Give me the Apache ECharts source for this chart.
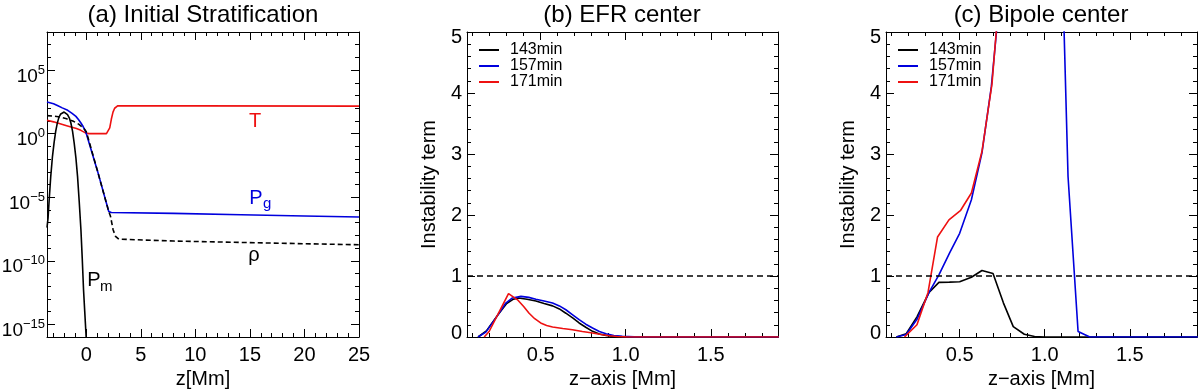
<!DOCTYPE html>
<html>
<head>
<meta charset="utf-8">
<script src="https://cdn.jsdelivr.net/npm/echarts@6/dist/echarts.min.js"></script>
<style>
  html, body { margin: 0; padding: 0; background: #fff; }
  #chart { width: 1200px; height: 389px; }
</style>
</head>
<body>
<div id="chart"></div>
<script>
// ---- panel (a): initial stratification, values are log10 of the quantity ----
const zRange = [-3.6, 25];
const logRange = [-16, 8];
const zMajor = [0, 5, 10, 15, 20, 25];
const zMinor = [-3, -2, -1, 1, 2, 3, 4, 6, 7, 8, 9, 11, 12, 13, 14, 16, 17, 18, 19, 21, 22, 23, 24];
const logMajor = [-15, -10, -5, 0, 5];
const logMinor = [-14, -13, -12, -11, -9, -8, -7, -6, -4, -3, -2, -1, 1, 2, 3, 4, 6, 7];

const tempLog = [[-3.6, 1.05], [-3.0, 0.93], [-2.4, 0.78], [-1.8, 0.63], [-1.4, 0.53], [-0.9, 0.4],
  [-0.5, 0.26], [-0.2, 0.12], [0.0, 0.02], [0.3, 0], [1.85, 0], [2.0, 0.1], [2.15, 0.45], [2.3, 1.15],
  [2.45, 1.7], [2.6, 2.0], [2.75, 2.14], [2.9, 2.2], [10, 2.19], [25, 2.17]];
const pgLog = [[-3.6, 2.5], [-3.0, 2.35], [-2.6, 2.2], [-2.2, 2.03], [-1.7, 1.84], [-1.3, 1.6],
  [-0.95, 1.36], [-0.7, 1.1], [-0.49, 0.84], [-0.3, 0.58], [-0.18, 0.37], [-0.05, 0.15], [0.06, 0],
  [1.04, -2.97], [2.06, -6.12], [2.3, -6.2], [8, -6.27], [14.2, -6.38], [20, -6.48], [25, -6.56]];
const rhoLog = [[-3.6, 1.42], [-3.0, 1.38], [-2.4, 1.31], [-1.8, 1.17], [-1.17, 0.97], [-0.7, 0.75],
  [-0.25, 0.45], [0.0, 0.15], [0.15, -0.28], [1.04, -2.97], [2.06, -6.12], [2.22, -6.5], [2.46, -7.56],
  [2.68, -8.08], [2.98, -8.3], [8, -8.45], [14.2, -8.56], [20, -8.66], [25, -8.74]];
const pmLog = [[-3.6, -7.4], [-3.5, -6.6], [-3.4, -5.2], [-3.26, -3.4], [-3.1, -1.8], [-2.95, -0.7],
  [-2.8, 0.2], [-2.65, 0.85], [-2.5, 1.3], [-2.34, 1.55], [-2.18, 1.67], [-2.03, 1.7], [-1.88, 1.65],
  [-1.72, 1.5], [-1.56, 1.25], [-1.41, 0.84], [-1.26, 0.2], [-1.11, -0.73], [-0.95, -1.9], [-0.8, -3.36],
  [-0.65, -5.3], [-0.49, -7.56], [-0.37, -9.8], [-0.25, -12.3], [-0.14, -14.0], [-0.03, -15.7], [0.0, -16.2]];

// ---- panels (b) and (c): instability term vs height ----
const hRange = [0.067, 1.895];
const hMajor = [0.5, 1.0, 1.5];
const hMinor = [0.1, 0.2, 0.3, 0.4, 0.6, 0.7, 0.8, 0.9, 1.1, 1.2, 1.3, 1.4, 1.6, 1.7, 1.8];
const termRange = [0, 5];
const termMajor = [0, 1, 2, 3, 4, 5];
const termMinor = [0.2, 0.4, 0.6, 0.8, 1.2, 1.4, 1.6, 1.8, 2.2, 2.4, 2.6, 2.8, 3.2, 3.4, 3.6, 3.8, 4.2, 4.4, 4.6, 4.8];
const threshold = 1;
const timeNames = ['143min', '157min', '171min'];

const efr143 = [[0.132, 0], [0.181, 0.1], [0.24, 0.33], [0.3, 0.55], [0.34, 0.62], [0.37, 0.64], [0.42, 0.62],
  [0.472, 0.59], [0.52, 0.55], [0.57, 0.51], [0.61, 0.46], [0.648, 0.39], [0.69, 0.31], [0.726, 0.23],
  [0.765, 0.16], [0.805, 0.093], [0.845, 0.05], [0.884, 0.027], [0.93, 0.01], [0.98, 0.003], [1.05, 0], [1.9, 0]];
const efr157 = [[0.132, 0], [0.178, 0.08], [0.236, 0.31], [0.295, 0.557], [0.334, 0.64], [0.384, 0.666],
  [0.43, 0.65], [0.472, 0.62], [0.52, 0.59], [0.57, 0.557], [0.61, 0.51], [0.648, 0.447], [0.69, 0.36],
  [0.726, 0.284], [0.765, 0.21], [0.805, 0.147], [0.845, 0.09], [0.884, 0.054], [0.93, 0.025], [0.98, 0.01],
  [1.05, 0.002], [1.1, 0], [1.9, 0]];
const efr171 = [[0.168, 0], [0.197, 0.09], [0.25, 0.38], [0.311, 0.71], [0.364, 0.61], [0.4, 0.5], [0.432, 0.39],
  [0.465, 0.3], [0.5, 0.23], [0.535, 0.19], [0.57, 0.164], [0.63, 0.14], [0.687, 0.12], [0.745, 0.09],
  [0.805, 0.065], [0.855, 0.04], [0.903, 0.02], [0.95, 0.008], [1.0, 0.002], [1.1, 0], [1.9, 0]];

const bip143 = [[0.128, 0], [0.186, 0.054], [0.249, 0.33], [0.32, 0.73], [0.378, 0.895], [0.44, 0.9], [0.5, 0.906],
  [0.569, 0.98], [0.631, 1.09], [0.696, 1.04], [0.757, 0.56], [0.815, 0.17], [0.88, 0.045], [0.94, 0.008],
  [1.0, 0], [1.9, 0]];
const bip157 = [[0.128, 0], [0.186, 0.04], [0.249, 0.29], [0.32, 0.73], [0.378, 1.02], [0.441, 1.38], [0.5, 1.7],
  [0.569, 2.25], [0.631, 3.02], [0.686, 4.1], [0.75, 6.0], [0.82, 9], [0.88, 13], [0.95, 18], [1.01, 15],
  [1.07, 9.5], [1.137, 2.63], [1.196, 0.09], [1.265, 0], [1.9, 0]];
const bip171 = [[0.176, 0], [0.249, 0.2], [0.314, 0.73], [0.37, 1.64], [0.437, 1.92], [0.504, 2.07], [0.569, 2.36],
  [0.631, 3.04], [0.69, 4.15], [0.75, 6.2], [0.82, 10], [0.9, 15], [1.0, 20], [1.2, 25], [1.5, 30], [1.9, 30]];

const FONT = "'Liberation Sans', Arial, Helvetica, sans-serif";
const RED = '#ee1111';
const BLUE = '#0000dd';
const BLACK = '#000000';
const AX = { color: '#000', width: 1 };

const grids = [
  { left: 47, top: 32, width: 312, height: 305 },
  { left: 467, top: 32, width: 311, height: 305 },
  { left: 886, top: 32, width: 311, height: 305 }
];

const xAxis = [];
const yAxis = [];

const labelRich = {
  b: { fontFamily: FONT, fontSize: 19, lineHeight: 20, verticalAlign: 'bottom', color: '#000' },
  e: { fontFamily: FONT, fontSize: 13, lineHeight: 32, verticalAlign: 'middle', color: '#000' },
  lo: { fontFamily: FONT, fontSize: 20, color: '#000', padding: [0, 0, 8, 0] },
  hi: { fontFamily: FONT, fontSize: 20, color: '#000', padding: [11, 0, 0, 0] }
};

// box with inward ticks on all four sides; minor ticks live on an overlay grid (index + 3)
function addBox(g, xr, yr, xMaj, xMin, yMaj, yMin, xFmt, yFmt, xName, yName, yLabelMargin) {
  const base = { type: 'value', splitLine: { show: false } };
  xAxis.push(Object.assign({}, base, {
    gridIndex: g, position: 'bottom', min: xr[0], max: xr[1],
    axisLine: { show: true, onZero: false, lineStyle: AX },
    axisTick: { show: true, inside: true, length: 8, customValues: xMaj, lineStyle: AX },
    axisLabel: { show: true, customValues: xMaj, formatter: xFmt, color: '#000', fontFamily: FONT, fontSize: 20, margin: 8 },
    name: xName, nameLocation: 'middle', nameGap: 26,
    nameTextStyle: { color: '#000', fontFamily: FONT, fontSize: 20 }
  }));
  xAxis.push(Object.assign({}, base, {
    gridIndex: g, position: 'top', min: xr[0], max: xr[1],
    axisLine: { show: true, onZero: false, lineStyle: AX },
    axisTick: { show: true, inside: true, length: 8, customValues: xMaj, lineStyle: AX },
    axisLabel: { show: false }
  }));
  yAxis.push(Object.assign({}, base, {
    gridIndex: g, position: 'left', min: yr[0], max: yr[1],
    axisLine: { show: true, onZero: false, lineStyle: AX },
    axisTick: { show: true, inside: true, length: 8, customValues: yMaj, lineStyle: AX },
    axisLabel: {
      show: true, customValues: yMaj, formatter: yFmt, color: '#000', fontFamily: FONT, fontSize: 20,
      margin: yLabelMargin, rich: labelRich
    },
    name: yName, nameLocation: 'middle', nameGap: 28,
    nameTextStyle: { color: '#000', fontFamily: FONT, fontSize: 20 }
  }));
  yAxis.push(Object.assign({}, base, {
    gridIndex: g, position: 'right', min: yr[0], max: yr[1],
    axisLine: { show: true, onZero: false, lineStyle: AX },
    axisTick: { show: true, inside: true, length: 8, customValues: yMaj, lineStyle: AX },
    axisLabel: { show: false }
  }));
  // minor ticks
  ['bottom', 'top'].forEach(p => xAxis.push(Object.assign({}, base, {
    gridIndex: g + 3, position: p, min: xr[0], max: xr[1],
    axisLine: { show: false, onZero: false },
    axisTick: { show: true, inside: true, length: 4, customValues: xMin, lineStyle: AX },
    axisLabel: { show: false }
  })));
  ['left', 'right'].forEach(p => yAxis.push(Object.assign({}, base, {
    gridIndex: g + 3, position: p, min: yr[0], max: yr[1],
    axisLine: { show: false, onZero: false },
    axisTick: { show: true, inside: true, length: 4, customValues: yMin, lineStyle: AX },
    axisLabel: { show: false }
  })));
}

const expFmt = v => '{b|10}{e|' + (v < 0 ? '\u2212' + Math.abs(v) : String(v)) + '}';
// IDL puts the end labels slightly inside the box
const termFmt = v => v === termRange[0] ? '{lo|' + v + '}' : v === termRange[1] ? '{hi|' + v + '}' : String(v);
addBox(0, zRange, logRange, zMajor, zMinor, logMajor, logMinor, v => String(v), expFmt, 'z[Mm]', '', 2);
addBox(1, hRange, termRange, hMajor, hMinor, termMajor, termMinor, v => v.toFixed(1), termFmt, 'z\u2212axis [Mm]', 'Instability term', 5);
addBox(2, hRange, termRange, hMajor, hMinor, termMajor, termMinor, v => v.toFixed(1), termFmt, 'z\u2212axis [Mm]', 'Instability term', 5);

// main axes of grid g are at index 4*g (bottom x / left y)
function line(name, g, data, color, dashed) {
  return {
    name: name, type: 'line', xAxisIndex: 4 * g, yAxisIndex: 4 * g, data: data,
    showSymbol: false, symbol: 'none', clip: true, silent: true,
    lineStyle: { color: color, width: 1.6, type: dashed ? [5, 3] : 'solid' },
    itemStyle: { color: color }
  };
}
function thresholdLine(g) {
  return {
    type: 'line', xAxisIndex: 4 * g, yAxisIndex: 4 * g, data: [], silent: true,
    markLine: {
      silent: true, symbol: ['none', 'none'], label: { show: false }, animation: false,
      lineStyle: { color: '#000', width: 1.5, type: [6, 4] },
      data: [{ yAxis: threshold }]
    }
  };
}

const series = [
  thresholdLine(1), thresholdLine(2),
  line('T', 0, tempLog, RED),
  line('Pg', 0, pgLog, BLUE),
  line('rho', 0, rhoLog, BLACK, true),
  line('Pm', 0, pmLog, BLACK),
  line(timeNames[0], 1, efr143, BLACK),
  line(timeNames[1], 1, efr157, BLUE),
  line(timeNames[2], 1, efr171, RED),
  line(timeNames[0], 2, bip143, BLACK),
  line(timeNames[1], 2, bip157, BLUE),
  line(timeNames[2], 2, bip171, RED)
];

function legendAt(left) {
  return {
    data: timeNames, left: left, top: 42, orient: 'vertical', padding: 0,
    itemWidth: 20, itemHeight: 2, itemGap: 0, icon: 'rect', selectedMode: false,
    textStyle: { color: '#000', fontFamily: FONT, fontSize: 16, lineHeight: 15.5, padding: [0, 0, 0, 6] }
  };
}

function label(x, y, text, size, color, align) {
  return {
    type: 'text', x: x, y: y, silent: true,
    style: {
      text: text, fill: color, font: size + 'px ' + FONT,
      align: align || 'center', verticalAlign: 'middle',
      textAlign: align || 'center', textVerticalAlign: 'middle'
    }
  };
}

const graphics = [
  label(203, 15, '(a) Initial Stratification', 24, '#000'),
  label(622, 15, '(b) EFR center', 24, '#000'),
  label(1041, 15, '(c) Bipole center', 24, '#000'),
  label(255, 121, 'T', 20, RED),
  label(256, 198, 'P', 20, BLUE),
  label(263, 204, 'g', 15, BLUE, 'left'),
  label(254, 255, '\u03c1', 20, '#000'),
  label(94, 280, 'P', 20, '#000'),
  label(100, 287, 'm', 15, '#000', 'left')
];

const chart = echarts.init(document.getElementById('chart'), null, { renderer: 'canvas' });
chart.setOption({
  animation: false,
  backgroundColor: '#fff',
  textStyle: { fontFamily: FONT },
  grid: grids.concat(grids).map(g => Object.assign({ outerBoundsMode: 'none', containLabel: false }, g)),
  xAxis: xAxis,
  yAxis: yAxis,
  legend: [legendAt(479), legendAt(898)],
  series: series,
  graphic: { elements: graphics }
});
window.addEventListener('resize', () => chart.resize());
</script>
</body>
</html>
